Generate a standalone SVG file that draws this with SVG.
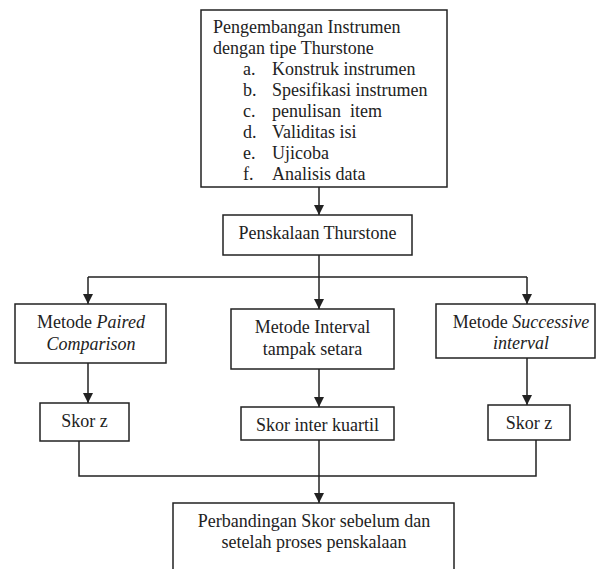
<svg xmlns="http://www.w3.org/2000/svg" width="597" height="569" viewBox="0 0 597 569">
<style>
.box{fill:#fff;stroke:#222;stroke-width:1.5}
.t{font-family:"Liberation Serif","Times New Roman",serif;font-size:18px;fill:#222}
.c{text-anchor:middle}
.conn{fill:none;stroke:#222;stroke-width:1.5}
</style>
<defs>
<marker id="ah" markerUnits="userSpaceOnUse" markerWidth="10" markerHeight="12" refX="10" refY="5" orient="auto">
<path d="M0,0 L10,5 L0,10 Z" fill="#222"/>
</marker>
</defs>
<rect width="597" height="569" fill="#fff"/>
<g id="connectors">
<path class="conn" d="M319,187 V215" marker-end="url(#ah)"/>
<path class="conn" d="M319,255 V277 M88,277 H527"/>
<path class="conn" d="M88,277 V304" marker-end="url(#ah)"/>
<path class="conn" d="M319,277 V309" marker-end="url(#ah)"/>
<path class="conn" d="M527,277 V304" marker-end="url(#ah)"/>
<path class="conn" d="M88,363 V403" marker-end="url(#ah)"/>
<path class="conn" d="M319,369 V407" marker-end="url(#ah)"/>
<path class="conn" d="M527,358 V405" marker-end="url(#ah)"/>
<path class="conn" d="M79,441 V476 H536 V440"/>
<path class="conn" d="M319,440 V503" marker-end="url(#ah)"/>
</g>
<g id="pengembangan">
<rect class="box" x="201" y="10" width="246" height="177"/>
<text class="t" x="213" y="33">Pengembangan Instrumen</text>
<text class="t" x="213" y="54">dengan tipe Thurstone</text>
<text class="t" x="243" y="75">a.</text><text class="t" x="272" y="75">Konstruk instrumen</text>
<text class="t" x="243" y="96">b.</text><text class="t" x="272" y="96">Spesifikasi instrumen</text>
<text class="t" x="243" y="117">c.</text><text class="t" x="272" y="117" xml:space="preserve">penulisan  item</text>
<text class="t" x="243" y="138">d.</text><text class="t" x="272" y="138">Validitas isi</text>
<text class="t" x="243" y="159">e.</text><text class="t" x="272" y="159">Ujicoba</text>
<text class="t" x="243" y="180">f.</text><text class="t" x="272" y="180">Analisis data</text>
</g>
<g id="penskalaan">
<rect class="box" x="223" y="215" width="189" height="40"/>
<text class="t c" x="317.5" y="239">Penskalaan Thurstone</text>
</g>
<g id="paired">
<rect class="box" x="15" y="304" width="151" height="59"/>
<text class="t c" x="91" y="328">Metode <tspan font-style="italic">Paired</tspan></text>
<text class="t c" x="91" y="350" font-style="italic">Comparison</text>
</g>
<g id="interval">
<rect class="box" x="231" y="309" width="163" height="60"/>
<text class="t c" x="312.5" y="333">Metode Interval</text>
<text class="t c" x="312.5" y="355">tampak setara</text>
</g>
<g id="successive">
<rect class="box" x="436" y="304" width="159" height="54"/>
<text class="t c" x="521" y="328">Metode <tspan font-style="italic">Successive</tspan></text>
<text class="t c" x="521" y="349" font-style="italic">interval</text>
</g>
<g id="skorz1">
<rect class="box" x="40" y="403" width="89" height="38"/>
<text class="t c" x="84.5" y="427">Skor z</text>
</g>
<g id="kuartil">
<rect class="box" x="241" y="407" width="153" height="33"/>
<text class="t c" x="317.5" y="431">Skor inter kuartil</text>
</g>
<g id="skorz2">
<rect class="box" x="488" y="405" width="82" height="35"/>
<text class="t c" x="529" y="429">Skor z</text>
</g>
<g id="perbandingan">
<rect class="box" x="173" y="503" width="281" height="75"/>
<text class="t c" x="314" y="527">Perbandingan Skor sebelum dan</text>
<text class="t c" x="314" y="548">setelah proses penskalaan</text>
</g>
</svg>
